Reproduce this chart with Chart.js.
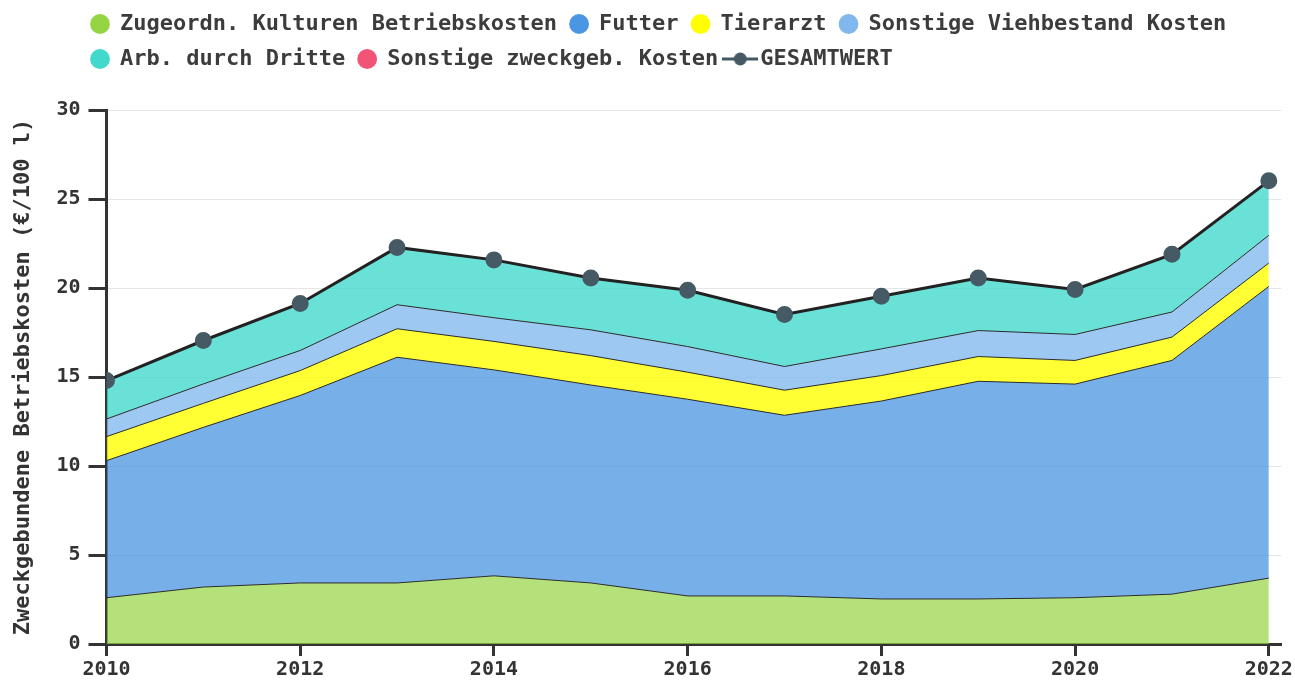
<!DOCTYPE html>
<html>
<head>
<meta charset="utf-8">
<script src="https://cdn.jsdelivr.net/npm/chart.js@4"></script>
<style>
  html, body { margin: 0; padding: 0; background: #fff; }
  #wrap { width: 1295px; height: 684px; }
</style>
</head>
<body>
<div id="wrap"><canvas id="areaChart"></canvas></div>
<script>
// Jahre und Werte (€/100 l)
let years = [2010, 2011, 2012, 2013, 2014, 2015, 2016, 2017, 2018, 2019, 2020, 2021, 2022];
let kulturen = [2.60, 3.20, 3.43, 3.43, 3.83, 3.43, 2.70, 2.70, 2.53, 2.53, 2.60, 2.80, 3.70];
let futter = [7.70, 8.97, 10.53, 12.68, 11.57, 11.12, 11.05, 10.15, 11.12, 12.23, 12.00, 13.13, 16.39];
let tierarzt = [1.35, 1.35, 1.40, 1.60, 1.60, 1.65, 1.52, 1.41, 1.43, 1.39, 1.33, 1.31, 1.31];
let viehbestand = [0.99, 1.09, 1.13, 1.35, 1.33, 1.45, 1.44, 1.33, 1.50, 1.46, 1.46, 1.41, 1.56];
let dritte = [2.16, 2.44, 2.64, 3.22, 3.25, 2.91, 3.16, 2.92, 2.96, 2.95, 2.53, 3.24, 3.06];
let sonstigeZweck = [0, 0, 0, 0, 0, 0, 0, 0, 0, 0, 0, 0, 0];
let gesamtwert = [14.80, 17.05, 19.13, 22.28, 21.58, 20.56, 19.87, 18.51, 19.54, 20.56, 19.92, 21.89, 26.02];
let yTicks = [0, 5, 10, 15, 20, 25, 30];
let xTicks = [2010, 2012, 2014, 2016, 2018, 2020, 2022];

let fontFamily = '"DejaVu Sans Mono", monospace';
let solidColors = ['#95d443', '#4a96e2', '#ffff00', '#80b8ed', '#40d9cc', '#f25478', '#455a64'];

// Punkte für die lineare x-Achse
function toPoints(values) {
  return years.map((year, i) => ({ x: year, y: values[i] }));
}

// Legenden-Symbol für GESAMTWERT: Linie mit Punkt
let gesamtIcon = document.createElement('canvas');
gesamtIcon.width = 36;
gesamtIcon.height = 16;
let ictx = gesamtIcon.getContext('2d');
ictx.strokeStyle = '#455a64';
ictx.lineWidth = 3;
ictx.beginPath();
ictx.moveTo(0, 8);
ictx.lineTo(36, 8);
ictx.stroke();
ictx.fillStyle = '#455a64';
ictx.beginPath();
ictx.arc(18, 8, 6.5, 0, Math.PI * 2);
ictx.fill();

function area(label, values, fill, fillTarget) {
  return {
    label: label,
    data: toPoints(values),
    backgroundColor: fill,
    borderColor: '#2b2b2b',
    borderWidth: 1,
    fill: fillTarget,
    pointRadius: 0,
    pointHoverRadius: 0,
    tension: 0
  };
}

// Legende nach rechts schieben und unten etwas Abstand zum Diagramm
let legendShift = {
  id: 'legendShift',
  beforeLayout(chart) {
    let legend = chart.legend;
    if (!legend._extraFit) {
      let origFit = legend.fit;
      legend.fit = function () {
        origFit.call(this);
        this.height += 30;
      };
      legend._extraFit = true;
    }
  },
  afterLayout(chart) {
    chart.legend.left += 68;
  }
};

let config = {
  type: 'line',
  data: {
    datasets: [
      area('Zugeordn. Kulturen Betriebskosten', kulturen, 'rgba(149, 212, 67, 0.7)', 'origin'),
      area('Futter', futter, 'rgba(74, 150, 226, 0.75)', '-1'),
      area('Tierarzt', tierarzt, 'rgba(255, 255, 0, 0.8)', '-1'),
      area('Sonstige Viehbestand Kosten', viehbestand, 'rgba(128, 184, 237, 0.78)', '-1'),
      area('Arb. durch Dritte', dritte, 'rgba(64, 217, 204, 0.78)', '-1'),
      area('Sonstige zweckgeb. Kosten', sonstigeZweck, 'rgba(242, 84, 120, 0.7)', '-1'),
      {
        label: 'GESAMTWERT',
        data: toPoints(gesamtwert),
        stack: 'gesamt',
        order: -1,
        fill: false,
        borderColor: '#222222',
        borderWidth: 3,
        backgroundColor: '#455a64',
        pointBackgroundColor: '#455a64',
        pointBorderColor: '#455a64',
        pointRadius: 7,
        pointHoverRadius: 7,
        tension: 0
      }
    ]
  },
  options: {
    responsive: true,
    maintainAspectRatio: false,
    animation: false,
    layout: { padding: { left: 10, right: 0, top: 0, bottom: 0 } },
    plugins: {
      tooltip: { enabled: false },
      legend: {
        position: 'top',
        align: 'start',
        labels: {
          usePointStyle: true,
          boxWidth: 18,
          boxHeight: 14,
          padding: 13,
          color: '#3c3c3c',
          font: { family: fontFamily, size: 22, weight: 'bold' },
          sort: (a, b) => a.datasetIndex - b.datasetIndex,
          generateLabels(chart) {
            let items = Chart.defaults.plugins.legend.labels.generateLabels(chart);
            items.forEach(item => {
              item.fillStyle = solidColors[item.datasetIndex];
              item.strokeStyle = solidColors[item.datasetIndex];
              item.lineWidth = 0;
              if (item.datasetIndex === 6) item.pointStyle = gesamtIcon;
            });
            return items;
          }
        }
      }
    },
    scales: {
      x: {
        type: 'linear',
        min: xTicks[0],
        max: xTicks[xTicks.length - 1] + 0.13,
        afterBuildTicks: axis => { axis.ticks = xTicks.map(v => ({ value: v })); },
        ticks: {
          color: '#333',
          font: { family: fontFamily, size: 20, weight: 'bold' },
          padding: 2,
          maxRotation: 0,
          callback: v => String(v)
        },
        grid: { drawOnChartArea: false, tickColor: '#333', tickLength: 12, tickWidth: 3 },
        border: { color: '#333', width: 3 }
      },
      y: {
        stacked: true,
        min: yTicks[0],
        max: yTicks[yTicks.length - 1],
        afterBuildTicks: axis => { axis.ticks = yTicks.map(v => ({ value: v })); },
        ticks: {
          color: '#333',
          font: { family: fontFamily, size: 20, weight: 'bold' },
          padding: 8
        },
        grid: { color: '#e6e6e6', lineWidth: 1, tickColor: '#333', tickLength: 18, tickWidth: 3 },
        border: { color: '#333', width: 3 },
        title: {
          display: true,
          text: 'Zweckgebundene Betriebskosten (€/100 l)',
          color: '#333',
          font: { family: fontFamily, size: 22, weight: 'bold' },
          padding: { top: 0, bottom: 12 }
        }
      }
    }
  },
  plugins: [legendShift]
};

let ctx = document.getElementById('areaChart').getContext('2d');
let areaChart = new Chart(ctx, config);
</script>
</body>
</html>
